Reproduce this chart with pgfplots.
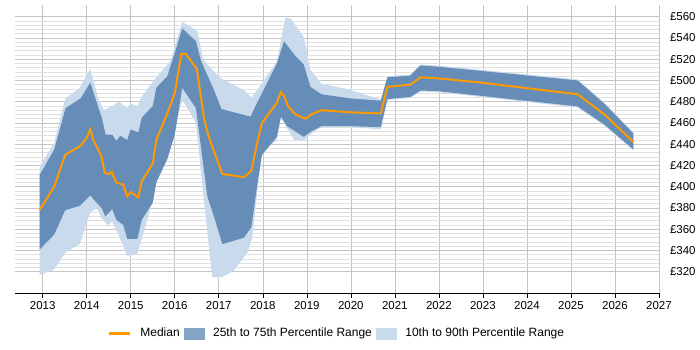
\documentclass[border=0pt]{standalone}
\usepackage{fontspec}
\setmainfont{Liberation Sans}
\usepackage{pgfplots}
\pgfplotsset{compat=1.18}
\usepgfplotslibrary{fillbetween}
\usepackage{pgfplotstable}

\definecolor{medianorange}{RGB}{255,153,0}
\definecolor{iqrblue}{RGB}{101,141,184}
\definecolor{decblue}{RGB}{201,218,236}
\definecolor{gridmajor}{RGB}{196,196,196}
\definecolor{gridminor}{RGB}{224,224,224}

% 10th / 90th percentile edges
\pgfplotstableread{
x y
2012.93 419
2013.26 441
2013.51 483
2013.84 493
2014.08 511
2014.27 482
2014.39 472
2014.58 476
2014.73 480
2014.92 474
2015.00 478
2015.15 476
2015.25 485
2015.60 504
2015.90 518
2016.17 555
2016.51 547
2016.65 519
2017.04 502
2017.57 491
2017.74 484
2017.87 491
2018.32 518
2018.51 559
2018.63 558
2018.93 541
2019.08 510
2019.33 497
2020.00 491
2020.68 482
2020.83 504
2021.35 505.5
2021.58 515
2021.97 514
2025.15 501
2025.76 479
2026.42 451
}\pninety
\pgfplotstableread{
x y
2012.93 317
2013.26 322
2013.51 338
2013.84 346
2014.08 376
2014.24 380
2014.31 372
2014.47 364
2014.58 367
2014.70 357
2014.92 335
2015.15 337
2015.38 369
2015.60 407
2015.90 441
2016.17 482
2016.48 460
2016.66 388
2016.85 315
2017.08 315
2017.34 321
2017.65 338
2017.76 352
2017.87 394
2017.98 432
2018.32 444
2018.41 465
2018.71 444
2018.93 443
2019.10 450
2019.33 456
2020.00 456
2020.68 454
2020.83 481.5
2021.35 483.5
2021.58 489.6
2021.97 489
2025.15 474.6
2025.76 457.5
2026.42 434
}\pten
% 25th / 75th percentile edges
\pgfplotstableread{
x y
2012.93 411
2013.26 435
2013.52 474
2013.86 483
2014.08 498
2014.34 465
2014.43 449
2014.58 449
2014.67 443
2014.76 448
2014.92 444
2015.00 454
2015.17 451
2015.25 465
2015.50 476
2015.58 493
2015.83 504
2016.00 526
2016.17 549
2016.48 537
2016.60 518
2016.89 491
2017.06 473
2017.72 466
2017.87 479
2018.32 516
2018.48 537
2018.74 523
2018.93 515
2019.08 494
2019.33 487
2020.00 483
2020.68 481
2020.83 503
2021.35 504.5
2021.58 514
2021.97 513
2025.15 500
2025.76 478
2026.42 450
}\pseventyfive
\pgfplotstableread{
x y
2012.93 341
2013.26 355
2013.51 378
2013.84 382
2014.08 392
2014.22 385
2014.34 380
2014.42 372
2014.58 379
2014.67 369
2014.83 364
2014.92 351
2015.15 351
2015.25 369
2015.50 385
2015.58 404
2015.83 426
2016.00 449
2016.17 493
2016.48 474
2016.74 391
2016.89 372
2017.08 346
2017.57 352
2017.74 362
2017.87 401
2017.98 430
2018.32 447
2018.41 466
2018.55 457
2018.93 447
2019.10 452
2019.33 457
2020.00 457
2020.68 456
2020.83 482.5
2021.35 484.5
2021.58 490.5
2021.97 490
2025.15 475.6
2025.76 458.5
2026.42 435
}\ptwentyfive
% median
\pgfplotstableread{
x y
2012.93 378
2013.26 400
2013.51 430
2013.84 438
2014.00 446
2014.08 454
2014.16 443
2014.33 429
2014.41 413
2014.50 412
2014.57 414
2014.67 404
2014.83 402
2014.92 391
2015.00 395
2015.17 390
2015.25 405
2015.50 422
2015.58 444
2015.83 469
2016.00 488
2016.15 525
2016.25 525
2016.50 511
2016.67 463
2016.78 446
2017.08 412
2017.57 409
2017.74 415
2017.87 441
2017.98 460
2018.32 479
2018.41 489
2018.49 485
2018.57 476
2018.74 468
2018.97 464
2019.10 468
2019.33 472
2020.00 470
2020.68 469
2020.83 494
2021.35 496
2021.59 503
2021.97 502
2022.95 498
2025.15 487
2025.76 468
2026.42 442
}\pmedian

\begin{document}
\fontsize{11.5pt}{13pt}\selectfont
\begin{tikzpicture}
\begin{axis}[
  at={(0,0)}, anchor=south west,
  scale only axis,
  width=644pt, height=288pt,
  xmin=2012.37, xmax=2027,
  ymin=300, ymax=571,
  xtick={2013,...,2027},
  ytick={320,340,...,560},
  minor y tick num=4,
  /pgf/number format/assume math mode=true,
  x tick label style={/pgf/number format/1000 sep={}},
  yticklabel={£\pgfmathprintnumber{\tick}},
  axis y line*=right,
  axis x line*=bottom,
  y axis line style={draw=none},
  x axis line style={black, line width=0.9pt},
  xtick style={black, line width=0.6pt},
  ytick style={draw=none},
  tick align=outside,
  major tick length=5pt,
  minor tick length=0pt,
  grid=both,
  major grid style={gridmajor, line width=0.6pt},
  minor grid style={gridminor, line width=0.5pt},
  xticklabel style={yshift=1pt},
  yticklabel style={xshift=2pt},
  legend style={at={(0.5,-0.14)}, anchor=center, draw=none, fill=none,
    legend columns=3, font=\fontsize{12pt}{14pt}\selectfont,
    /tikz/every even column/.append style={column sep=2pt},
    /tikz/every odd column/.append style={column sep=7pt}},
  legend cell align=left,
]
\addlegendimage{legend image code/.code={\draw[medianorange, line width=2.5pt] (0pt,0pt) -- (21pt,0pt);}}
\addlegendentry{Median}
\addlegendimage{legend image code/.code={\fill[iqrblue!80!white] (0pt,-5.5pt) rectangle (20pt,5.5pt);}}
\addlegendentry{25th to 75th Percentile Range}
\addlegendimage{legend image code/.code={\fill[decblue] (0pt,-5.5pt) rectangle (20pt,5.5pt);}}
\addlegendentry{10th to 90th Percentile Range}

\addplot[name path=p90, draw=none, forget plot] table {\pninety};
\addplot[name path=p10, draw=none, forget plot] table {\pten};
\addplot[decblue, forget plot] fill between[of=p90 and p10];
\addplot[name path=p75, draw=none, forget plot] table {\pseventyfive};
\addplot[name path=p25, draw=none, forget plot] table {\ptwentyfive};
\addplot[iqrblue, forget plot] fill between[of=p75 and p25];
\addplot[medianorange, line width=2pt, forget plot] table {\pmedian};
\end{axis}
\path (-15pt,-57pt) rectangle (685pt,293pt);
\end{tikzpicture}
\end{document}
